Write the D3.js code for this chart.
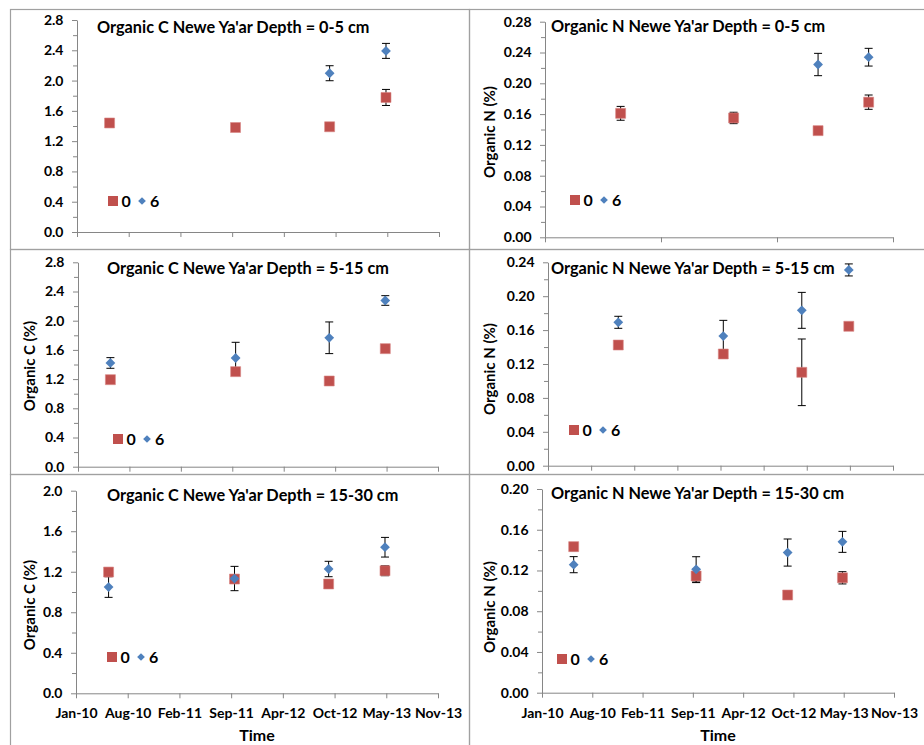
<!DOCTYPE html>
<html>
<head>
<meta charset="utf-8">
<script src="https://cdn.jsdelivr.net/npm/d3@7"></script>
<style>
  html, body { margin: 0; padding: 0; background: #fff; }
  svg { display: block; font-family: Lato, 'Open Sans', sans-serif; font-weight: bold; }
</style>
</head>
<body>
<div id="chart"></div>
<script>
// sampling dates (same for every panel)
const sampleDates = ['2010-05-28', '2011-09-27', '2012-09-25', '2013-05-01'];
const seriesNames = ['0', '6'];

// Organic C, 0-5 cm
const cTop0 = [1.44, 1.38, 1.39, 1.777];
const cTop0Err = [0.02, 0.02, 0.02, 0.106];
const cTop6 = [null, null, 2.097, 2.392];
const cTop6Err = [null, null, 0.099, 0.099];

// Organic N, 0-5 cm
const nTop0 = [0.161, 0.155, 0.1385, 0.1755];
const nTop0Err = [0.009, 0.0074, 0.002, 0.0093];
const nTop6 = [null, null, 0.2244, 0.2339];
const nTop6Err = [null, null, 0.0145, 0.0115];

// Organic C, 5-15 cm
const cMid0 = [1.192, 1.302, 1.174, 1.617];
const cMid0Err = [0.03, 0.03, 0.03, 0.04];
const cMid6 = [1.421, 1.489, 1.766, 2.277];
const cMid6Err = [0.073, 0.215, 0.217, 0.066];

// Organic N, 5-15 cm
const nMid0 = [0.1424, 0.1318, 0.1102, 0.1645];
const nMid0Err = [0.003, 0.003, 0.0393, 0.003];
const nMid6 = [0.1692, 0.153, 0.1833, 0.231];
const nMid6Err = [0.0071, 0.0185, 0.0212, 0.0071];

// Organic C, 15-30 cm
const cLow0 = [1.197, 1.128, 1.079, 1.21];
const cLow0Err = [0.03, 0.03, 0.02, 0.049];
const cLow6 = [1.049, 1.133, 1.227, 1.442];
const cLow6Err = [0.102, 0.12, 0.076, 0.097];

// Organic N, 15-30 cm
const nLow0 = [0.1434, 0.1146, 0.0959, 0.1128];
const nLow0Err = [0.004, 0.0065, 0.002, 0.006];
const nLow6 = [0.1257, 0.1211, 0.1376, 0.1481];
const nLow6Err = [0.0079, 0.0124, 0.0133, 0.0103];

// x axes: [start, end, tick step in days]
const xAxisMain = ['2010-01-22', '2013-11-22', 200];
const xAxisTopN = ['2009-07-06', '2013-08-14', 500];
const xAxisMidN = ['2009-07-06', '2013-11-22', 200];

const titles = [
  "Organic C Newe Ya'ar Depth = 0-5 cm",
  "Organic N Newe Ya'ar Depth = 0-5 cm",
  "Organic C Newe Ya'ar Depth = 5-15 cm",
  "Organic N Newe Ya'ar Depth = 5-15 cm",
  "Organic C Newe Ya'ar Depth = 15-30 cm",
  "Organic N Newe Ya'ar Depth = 15-30 cm"
];

const colors = {
  s0: '#c0504d',
  s6: '#4f81bd',
  axis: '#868686',
  border: '#a0a0a0'
};

const parse = d3.utcParse('%Y-%m-%d');
const fmtDate = d3.utcFormat('%b-%y');

const panels = [
  { box: [10, 9, 469, 249], plot: [77, 439, 20, 232], yMax: 2.8, yStep: 0.4, fmt: '.1f',
    xAxis: xAxisMain, s0: [cTop0, cTop0Err], s6: [cTop6, cTop6Err], title: titles[0],
    titlePos: [97, 33.3], yTitle: null, legend: [113, 201] },
  { box: [469, 9, 935, 249], plot: [545, 893, 21.7, 237.3], yMax: 0.28, yStep: 0.04, fmt: '.2f',
    xAxis: xAxisTopN, s0: [nTop0, nTop0Err], s6: [nTop6, nTop6Err], title: titles[1],
    titlePos: [551, 31.7], yTitle: ['Organic N (%)', 489.5, 132], legend: [575, 200] },
  { box: [10, 249, 469, 474], plot: [78, 438, 262.3, 466.7], yMax: 2.8, yStep: 0.4, fmt: '.1f',
    xAxis: xAxisMain, s0: [cMid0, cMid0Err], s6: [cMid6, cMid6Err], title: titles[2],
    titlePos: [107, 274.3], yTitle: ['Organic C (%)', 29, 366], legend: [118, 439] },
  { box: [469, 249, 935, 474], plot: [548, 893, 262.3, 465.7], yMax: 0.24, yStep: 0.04, fmt: '.2f',
    xAxis: xAxisMidN, s0: [nMid0, nMid0Err], s6: [nMid6, nMid6Err], title: titles[3],
    titlePos: [551, 274], yTitle: ['Organic N (%)', 489, 369], legend: [574, 430] },
  { box: [10, 474, 469, 760], plot: [76, 438, 490.7, 693.3], yMax: 2.0, yStep: 0.4, fmt: '.1f',
    xAxis: xAxisMain, s0: [cLow0, cLow0Err], s6: [cLow6, cLow6Err], title: titles[4],
    titlePos: [107, 500.7], yTitle: ['Organic C (%)', 29.5, 605], legend: [112, 657],
    xLabels: true, xTitle: [257, 740.5] },
  { box: [469, 474, 935, 760], plot: [542, 894, 489, 692.7], yMax: 0.20, yStep: 0.04, fmt: '.2f',
    xAxis: xAxisMain, s0: [nLow0, nLow0Err], s6: [nLow6, nLow6Err], title: titles[5],
    titlePos: [551, 499], yTitle: ['Organic N (%)', 489, 607], legend: [562, 659],
    xLabels: true, xTitle: [718, 740.5] }
];

const width = 924;
const height = 745;

const svg = d3.select('#chart')
  .append('svg')
  .attr('width', width)
  .attr('height', height);

const squareSym = d3.symbol().type(d3.symbolSquare).size(100);
const diamondSym = d3.symbol().type(d3.symbolSquare).size(48);
const legendDiamond = d3.symbol().type(d3.symbolSquare).size(30);

panels.forEach((p) => {
  const [left, right, top, bottom] = p.plot;
  const g = svg.append('g').attr('class', 'panel');

  g.append('rect')
    .attr('x', p.box[0] + 0.5)
    .attr('y', p.box[1] + 0.5)
    .attr('width', p.box[2] - p.box[0])
    .attr('height', p.box[3] - p.box[1])
    .attr('fill', 'none')
    .attr('stroke', colors.border)
    .attr('stroke-width', 1.2);

  const start = parse(p.xAxis[0]);
  const end = parse(p.xAxis[1]);
  const x = d3.scaleUtc()
    .domain([start, end])
    .range([left, right]);

  const xTicks = [];
  for (let t = start; t <= end; t = d3.utcDay.offset(t, p.xAxis[2])) xTicks.push(t);

  const y = d3.scaleLinear()
    .domain([0, p.yMax])
    .range([bottom, top]);

  const majors = d3.range(0, p.yMax + p.yStep / 2, p.yStep);
  const minors = d3.range(p.yStep / 2, p.yMax, p.yStep);

  // minor ticks
  g.append('g')
    .attr('transform', `translate(${left},0)`)
    .call(d3.axisLeft(y).tickValues(minors).tickSize(4).tickSizeOuter(0).tickFormat(''))
    .call(a => a.select('.domain').remove())
    .call(a => a.selectAll('line').attr('stroke', colors.axis));

  const yAxis = g.append('g')
    .attr('transform', `translate(${left},0)`)
    .call(d3.axisLeft(y).tickValues(majors).tickSize(5).tickSizeOuter(0).tickPadding(8.5)
      .tickFormat(d3.format(p.fmt)));
  yAxis.select('.domain').attr('stroke', colors.axis);
  yAxis.selectAll('line').attr('stroke', colors.axis);
  yAxis.selectAll('text')
    .attr('fill', '#000')
    .style('font-size', '14px')
    .style('font-family', 'Lato, sans-serif')
    .style('font-weight', 'bold');

  const xAxis = g.append('g')
    .attr('transform', `translate(0,${bottom})`)
    .call(d3.axisBottom(x).tickValues(xTicks).tickSize(5).tickSizeOuter(0).tickPadding(10)
      .tickFormat(p.xLabels ? fmtDate : ''));
  xAxis.select('.domain').attr('stroke', colors.axis);
  xAxis.selectAll('line').attr('stroke', colors.axis);
  xAxis.selectAll('text')
    .attr('fill', '#000')
    .style('font-size', '14px')
    .style('font-family', 'Lato, sans-serif')
    .style('font-weight', 'bold');

  // title
  g.append('text')
    .attr('x', p.titlePos[0])
    .attr('y', p.titlePos[1])
    .style('font-size', '16.3px')
    .text(p.title);

  if (p.yTitle) {
    g.append('text')
      .attr('transform', `translate(${p.yTitle[1] + 5.5},${p.yTitle[2]}) rotate(-90)`)
      .attr('text-anchor', 'middle')
      .style('font-size', '15px')
      .text(p.yTitle[0]);
  }

  if (p.xTitle) {
    g.append('text')
      .attr('x', p.xTitle[0])
      .attr('y', p.xTitle[1])
      .attr('text-anchor', 'middle')
      .style('font-size', '16px')
      .text('Time');
  }

  const toPoints = (vals, errs) => vals
    .map((v, i) => ({ date: parse(sampleDates[i]), v, e: errs[i] }))
    .filter(d => d.v != null);

  const pts0 = toPoints(p.s0[0], p.s0[1]);
  const pts6 = toPoints(p.s6[0], p.s6[1]);

  // error bars
  const drawErr = (pts, cls) => {
    const eg = g.append('g').attr('class', cls);
    pts.forEach((d) => {
      const cx = x(d.date);
      const y1 = y(d.v + d.e);
      const y2 = y(d.v - d.e);
      eg.append('line')
        .attr('x1', cx).attr('x2', cx)
        .attr('y1', y1).attr('y2', y2)
        .attr('stroke', '#000').attr('stroke-width', 1);
      [y1, y2].forEach((yy) => {
        eg.append('line')
          .attr('x1', cx - 4).attr('x2', cx + 4)
          .attr('y1', yy).attr('y2', yy)
          .attr('stroke', '#000').attr('stroke-width', 1);
      });
    });
  };
  drawErr(pts0, 'err0');
  drawErr(pts6, 'err6');

  g.append('g')
    .selectAll('path')
    .data(pts0)
    .enter()
    .append('path')
    .attr('d', squareSym)
    .attr('transform', d => `translate(${x(d.date)},${y(d.v)})`)
    .attr('fill', colors.s0)
    .attr('stroke', '#d88784')
    .attr('stroke-width', 0.6);

  g.append('g')
    .selectAll('path')
    .data(pts6)
    .enter()
    .append('path')
    .attr('d', diamondSym)
    .attr('transform', d => `translate(${x(d.date)},${y(d.v)}) rotate(45)`)
    .attr('fill', colors.s6);

  // legend
  const [lx, ly] = p.legend;
  const lg = g.append('g').attr('class', 'legend');
  lg.append('path')
    .attr('d', squareSym)
    .attr('transform', `translate(${lx},${ly})`)
    .attr('fill', colors.s0);
  lg.append('text')
    .attr('x', lx + 8.5)
    .attr('y', ly + 5.5)
    .style('font-size', '16px')
    .text(seriesNames[0]);
  lg.append('path')
    .attr('d', legendDiamond)
    .attr('transform', `translate(${lx + 29},${ly}) rotate(45)`)
    .attr('fill', colors.s6);
  lg.append('text')
    .attr('x', lx + 37)
    .attr('y', ly + 5.5)
    .style('font-size', '16px')
    .text(seriesNames[1]);
});
</script>
</body>
</html>
